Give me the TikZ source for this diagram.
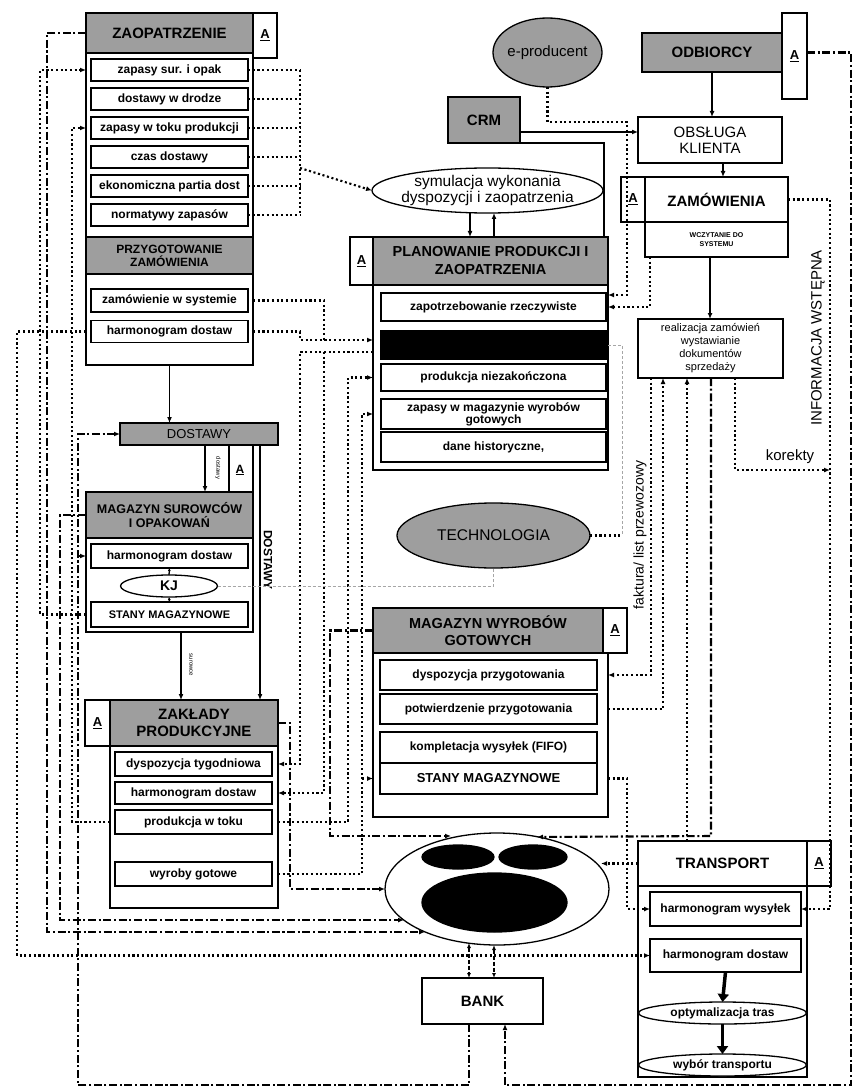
\documentclass[tikz,border=0pt]{standalone}
\usepackage{fontspec}
\setmainfont{Liberation Sans}
\usetikzlibrary{arrows.meta,shapes.geometric,calc}
\definecolor{hdrgray}{gray}{0.62}
\newcommand{\fsb}[2]{\fontsize{#1}{#2}\selectfont\bfseries}
\newcommand{\fsr}[2]{\fontsize{#1}{#2}\selectfont}
\tikzset{
 bx/.style={draw, line width=1.3pt, fill=white, align=center, inner sep=1pt, outer sep=0pt, font=\fsb{12}{13}},
 hd/.style={bx, fill=hdrgray, font=\fsb{15}{17}},
 abox/.style={bx, font=\fsb{13}{13}},
 el/.style={ellipse, draw, line width=1.3pt, fill=white, inner sep=0pt, outer sep=0pt},
 lbl/.style={inner sep=0pt, outer sep=0pt, align=center},
 ln/.style={line width=1.3pt},
 ar/.style={-{Latex[length=6pt,width=5pt]}},
 dt/.style={line width=2.1pt, dash pattern=on 2.1pt off 2.6pt},
 dd/.style={line width=2.1pt, dash pattern=on 8pt off 2.6pt on 2.1pt off 2.6pt},
 gd/.style={line width=1pt, dash pattern=on 3pt off 2pt, draw=black!35},
}
\begin{document}
\begin{tikzpicture}[x=1pt,y=-1pt]
\useasboundingbox (0,0) rectangle (854,1091);
\fill[white] (0,0) rectangle (854,1091);

% ---------------- ZAOPATRZENIE
\node[bx, minimum width=167, minimum height=352] (zaopO) at (169.5,189) {};
\node[hd, minimum width=167, minimum height=40] (zaopH) at (169.5,33) {ZAOPATRZENIE};
\node[abox, minimum width=24, minimum height=45] (zaopA) at (265,35.5) {\underline{A}};
\node[bx, minimum width=157, minimum height=22] (z1) at (169.5,70) {zapasy sur. i opak};
\node[bx, minimum width=157, minimum height=22] (z2) at (169.5,99) {dostawy w drodze};
\node[bx, minimum width=157, minimum height=22] (z3) at (169.5,128) {zapasy w toku produkcji};
\node[bx, minimum width=157, minimum height=22] (z4) at (169.5,157) {czas dostawy};
\node[bx, minimum width=157, minimum height=22] (z5) at (169.5,186) {ekonomiczna partia dost};
\node[bx, minimum width=157, minimum height=22] (z6) at (169.5,215) {normatywy zapasów};
\node[hd, minimum width=167, minimum height=37, font=\fsb{12}{13}] (przH) at (169.5,255.5) {PRZYGOTOWANIE\\ZAMÓWIENIA};
\node[bx, minimum width=157, minimum height=23] (z7) at (169.5,300.5) {zamówienie w systemie};
\node[bx, minimum width=157, minimum height=22] (z8) at (169.5,331.5) {harmonogram dostaw};

% ---------------- DOSTAWY
\node[hd, minimum width=158, minimum height=22, font=\fsr{13}{13}] (dost) at (199,434) {DOSTAWY};

% ---------------- MAGAZYN SUROWCOW
\node[bx, minimum width=167, minimum height=140] (magO) at (169.5,562) {};
\node[hd, minimum width=167, minimum height=46, font=\fsb{12.5}{14}] (magH) at (169.5,515) {MAGAZYN SUROWCÓW\\I OPAKOWAŃ};
\node[bx, minimum width=157, minimum height=24] (m1) at (169.5,556) {harmonogram dostaw};
\node[el, minimum width=97, minimum height=22] (kj) at (169,586) {};
\node[lbl, font=\fsb{14}{14}] (kjt) at (kj) {KJ};
\node[bx, minimum width=157, minimum height=25, font=\fsb{11}{12}] (m2) at (169.5,614.5) {STANY MAGAZYNOWE};

% ---------------- ZAKLADY
\node[bx, minimum width=168, minimum height=162] (zakO) at (194,827) {};
\node[hd, minimum width=168, minimum height=46] (zakH) at (194,723) {ZAKŁADY\\PRODUKCYJNE};
\node[abox, minimum width=25, minimum height=46] (zakA) at (97.5,723) {\underline{A}};
\node[bx, minimum width=157, minimum height=24] (k1) at (193.5,764) {dyspozycja tygodniowa};
\node[bx, minimum width=157, minimum height=22] (k2) at (193.5,793) {harmonogram dostaw};
\node[bx, minimum width=157, minimum height=24] (k3) at (193.5,822) {produkcja w toku};
\node[bx, minimum width=157, minimum height=24] (k4) at (193.5,874) {wyroby gotowe};

% ---------------- top right
\node[el, fill=hdrgray, minimum width=109, minimum height=69] (eprod) at (547.5,52.5) {};
\node[lbl, font=\fsr{15}{15}] (eprodt) at (eprod) {e-producent};
\node[hd, minimum width=140, minimum height=39] (odb) at (712,52.5) {ODBIORCY};
\node[abox, minimum width=25, minimum height=86] (odbA) at (794.5,56) {\underline{A}};
\node[hd, minimum width=72, minimum height=46] (crm) at (484,120) {CRM};
\node[bx, minimum width=144, minimum height=46, font=\fsr{15}{16}] (obs) at (710,140) {OBSŁUGA\\KLIENTA};
\node[abox, minimum width=24, minimum height=45] (zamA) at (633,199.5) {\underline{A}};
\node[bx, minimum width=143, minimum height=45, font=\fsb{15}{15}] (zam) at (716.5,199.5) {ZAMÓWIENIA};
\node[bx, minimum width=143, minimum height=35, font=\fsb{7}{9}] (wczyt) at (716.5,239.5) {WCZYTANIE DO\\SYSTEMU};

% ---------------- symulacja
\node[el, minimum width=231, minimum height=45] (sym) at (487.5,190.5) {};
\node[lbl, font=\fsr{15.5}{16}] (symt) at (sym) {symulacja wykonania\\dyspozycji i zaopatrzenia};

% ---------------- PLANOWANIE
\node[bx, minimum width=235, minimum height=185] (planO) at (490.5,377.5) {};
\node[hd, minimum width=235, minimum height=48, font=\fsb{14.5}{18}] (planH) at (490.5,261) {PLANOWANIE PRODUKCJI I\\ZAOPATRZENIA};
\node[abox, minimum width=23, minimum height=48] (planA) at (361.5,261) {\underline{A}};
\node[bx, minimum width=225, minimum height=28] (p1) at (493.5,307) {zapotrzebowanie rzeczywiste};
\node[bx, fill=black, minimum width=225, minimum height=28] (p2) at (493.5,345) {};
\node[bx, minimum width=225, minimum height=27] (p3) at (493.5,377.5) {produkcja niezakończona};
\node[bx, minimum width=225, minimum height=30, font=\fsb{12}{12}] (p4) at (493.5,414) {zapasy w magazynie wyrobów\\gotowych};
\node[bx, minimum width=225, minimum height=30] (p5) at (493.5,447) {dane historyczne,};

% ---------------- TECHNOLOGIA
\node[el, fill=hdrgray, minimum width=193, minimum height=65] (tech) at (493.5,535.5) {};
\node[lbl, font=\fsr{15.5}{15.5}] (techt) at (tech) {TECHNOLOGIA};

% ---------------- realizacja
\node[bx, minimum width=145, minimum height=59, font=\fsr{11}{13}] (real) at (710.5,348.5) {realizacja zamówień\\wystawianie\\dokumentów\\sprzedaży};

% ---------------- MAGAZYN WYROBOW GOTOWYCH
\node[bx, minimum width=235, minimum height=164] (mwgO) at (490.5,735) {};
\node[hd, minimum width=230, minimum height=45, font=\fsb{14.5}{17}] (mwgH) at (488,630.5) {MAGAZYN WYROBÓW\\GOTOWYCH};
\node[abox, minimum width=24, minimum height=45] (mwgA) at (615,630.5) {\underline{A}};
\node[bx, minimum width=217, minimum height=30] (w1) at (488.5,675) {dyspozycja przygotowania};
\node[bx, minimum width=217, minimum height=30] (w2) at (488.5,709) {potwierdzenie przygotowania};
\node[bx, minimum width=217, minimum height=31] (w3) at (488.5,747.5) {kompletacja wysyłek (FIFO)};
\node[bx, line width=2.2pt, minimum width=217, minimum height=31, font=\fsb{13}{13}] (w4) at (488.5,778.5) {STANY MAGAZYNOWE};

% ---------------- central ellipse
\node[el, minimum width=224, minimum height=112] (db) at (497,889) {};
\node[el, fill=black, minimum width=72, minimum height=24] (e1) at (458,857) {};
\node[el, fill=black, minimum width=68, minimum height=24] (e2) at (533,857) {};
\node[el, fill=black, minimum width=145, minimum height=59] (e3) at (494.5,902.5) {};

% ---------------- BANK
\node[bx, minimum width=121, minimum height=46, font=\fsb{15}{15}] (bank) at (482.5,1001) {BANK};

% ---------------- TRANSPORT
\node[bx, minimum width=169, minimum height=191] (trO) at (722.5,981.5) {};
\node[bx, minimum width=169, minimum height=45, font=\fsb{15}{15}] (trH) at (722.5,863.5) {TRANSPORT};
\node[abox, minimum width=24, minimum height=45] (trA) at (819,863.5) {\underline{A}};
\node[bx, minimum width=151, minimum height=34] (t1) at (725.5,909) {harmonogram wysyłek};
\node[bx, minimum width=151, minimum height=33] (t2) at (725.5,955.5) {harmonogram dostaw};
\node[el, minimum width=168, minimum height=22] (t3) at (722.5,1013) {};
\node[lbl, font=\fsb{12}{12}] (t3t) at (t3) {optymalizacja tras};
\node[el, minimum width=168, minimum height=22] (t4) at (722.5,1065) {};
\node[lbl, font=\fsb{12}{12}] (t4t) at (t4) {wybór transportu};

% ---------------- free labels
\node[lbl, rotate=90, font=\fsr{15}{15}] (linfo) at (818,338) {INFORMACJA WSTĘPNA};
\node[lbl, rotate=90, font=\fsr{14}{14}] (lfakt) at (640,535) {faktura/ list przewozowy};
\node[lbl, font=\fsr{15}{15}] (lkor) at (790,457) {korekty};
\node[lbl, rotate=-90, font=\fsb{12}{12}] (ldost) at (268,560) {DOSTAWY};
\node[lbl, rotate=-90, font=\fsr{6}{6}] (ldost2) at (218,468) {dostawy};
\node[lbl, font=\fsb{12}{12}] (lAd) at (240,470) {\underline{A}};
\node[lbl, rotate=-90, font=\fsr{6}{6}] (lsur) at (191,665) {surowce};

% ---------------- lane coordinates
\coordinate (xd1) at (205,0); \coordinate (xd2) at (229,0);
\coordinate (xd3) at (253,0); \coordinate (xd4) at (260,0);
\coordinate (xd5) at (181,0); \coordinate (x470) at (470,0);
\coordinate (x494) at (494,0); \coordinate (x604) at (604,0);
\coordinate (x710) at (710,0); \coordinate (x723) at (723,0);
\coordinate (yc) at (0,132); \coordinate (y122) at (0,122);
\coordinate (y295) at (0,295); \coordinate (y307) at (0,307);
\coordinate (y470) at (0,470); \coordinate (y340) at (0,340);
\coordinate (y352) at (0,352); \coordinate (y836) at (0,836);
\coordinate (yB) at (0,1085);
\coordinate (lA) at (17,0); \coordinate (lB) at (40,0); \coordinate (lC) at (47,0);
\coordinate (lD) at (60,0); \coordinate (lE) at (72,0); \coordinate (lF) at (78,0);
\coordinate (sp) at (300,0); \coordinate (lM) at (290,0); \coordinate (lH) at (324,0);
\coordinate (lL) at (330,0); \coordinate (lJ) at (348,0); \coordinate (lK) at (362,0);
\coordinate (x622) at (622,0);
\coordinate (r1) at (627,0); \coordinate (r2) at (650,0); \coordinate (r3) at (651,0);
\coordinate (r4) at (663,0); \coordinate (r5) at (687,0); \coordinate (r6) at (711,0);
\coordinate (r7) at (735,0); \coordinate (r8) at (830,0); \coordinate (rR) at (851,0);
\coordinate (xb1) at (469,0); \coordinate (xb2) at (505,0); \coordinate (xb3) at (494,0);
\coordinate (dbE) at ($(db.center)+(104,-21)$);
\coordinate (dbNW) at ($(db.center)+(-46,-53)$);
\coordinate (dbN) at ($(db.center)+(40,-52)$);
\coordinate (dbW1) at ($(db.center)+(-93,31)$);
\coordinate (dbW2) at ($(db.center)+(-72,43)$);
\coordinate (dbS1) at ($(db.center)+(-28,54)$);
\coordinate (dbS2) at ($(db.center)+(-3,56)$);

% ---------------- solid connectors
\draw[ln,ar] (zaopO.south) -- (zaopO.south |- dost.north);
\draw[ln,ar] (xd1 |- dost.south) -- (xd1 |- magH.north);
\draw[ln] (xd2 |- dost.south) -- (xd2 |- magH.north);
\draw[ln] (xd3 |- dost.south) -- (xd3 |- magH.north);
\draw[ln,ar] (xd4 |- dost.south) -- (xd4 |- zakH.north);
\draw[ln,ar] (xd5 |- magO.south) -- (xd5 |- zakH.north);
\draw[ln,-{Latex[length=3pt,width=3pt]}] (kj.north) -- (m1.south);
\draw[ln,-{Latex[length=3pt,width=3pt]}] (m2.north) -- (kj.south);
\draw[ln,ar] (odb.south) -- (odb.south |- obs.north);
\draw[ln,ar] (crm.east |- yc) -- (obs.west |- yc);
\draw[ln] (crm.south east) -- (x604 |- crm.south east) -- (x604 |- planH.north);
\draw[ln,ar] (x723 |- obs.south) -- (x723 |- zam.north);
\draw[ln,ar] (x470 |- sym.south) -- (x470 |- planH.north);
\draw[ln,ar] (x494 |- planH.north) -- (x494 |- sym.south);
\draw[ln,ar] (x710 |- wczyt.south) -- (x710 |- real.north);
\draw[line width=3.5pt,-{Triangle[length=8pt,width=11pt]}] (t2.south) -- (t3.north);
\draw[line width=3.5pt,-{Triangle[length=8pt,width=11pt]}] (t3.south) -- (t4.north);

% ---------------- dotted connectors
\foreach \n in {z1,z2,z3,z4,z5,z6} \draw[dt] (\n.east) -- (sp |- \n.east);
\draw[dt] (sp |- z1.east) -- (sp |- z6.east);
\draw[dt,ar] (sp |- z4.south) -- (sym.west);
\draw[dt,ar] (eprod.south) -- (eprod.south |- y122) -- (r1 |- y122) -- (r1 |- y295) -- (planO.east |- y295);
\draw[dt,ar] (r2 |- wczyt.south) -- (r2 |- y307) -- (planO.east |- y307);
\draw[dt,ar] (zam.east) -- (r8 |- zam.east) -- (r8 |- t1.east) -- (t1.east);
\draw[dt,ar] (r7 |- real.south) -- (r7 |- y470) -- (r8 |- y470);
\draw[dt,ar] (r3 |- real.south) -- (r3 |- w1.east) -- (mwgO.east |- w1.east);
\draw[dt,ar] (mwgO.east |- w2.east) -- (r4 |- w2.east) -- (r4 |- real.south);
\draw[dt,ar] (r5 |- trH.north) -- (r5 |- real.south);
\draw[dt,ar] (mwgO.east |- w4.east) -- (r1 |- w4.east) -- (r1 |- t1.west) -- (t1.west);
\draw[dt,ar] (trH.west) -- (trH.west -| dbE);
\draw[dt,ar] (zaopO.west |- z8.west) -- (lA |- z8.west) -- (lA |- t2.west) -- (t2.west);
\draw[dt,ar] (magO.west |- m2.west) -- (lB |- m2.west) -- (lB |- z1.west) -- (zaopO.west |- z1.west);
\draw[dt,ar] (zakO.west |- k3.west) -- (lE |- k3.west) -- (lE |- z3.west) -- (zaopO.west |- z3.west);
\draw[dt] (zaopO.east |- z7.east) -- (lH |- z7.east) -- (lH |- y340);
\draw[dt,ar] (zaopO.east |- z8.east) -- (sp |- z8.east) -- (sp |- y340) -- (planO.west |- y340);
\draw[dt,ar] (planO.west |- y352) -- (sp |- y352) -- (sp |- k1.east) -- (zakO.east |- k1.east);
\draw[dt,ar] (lH |- y352) -- (lH |- k2.east) -- (zakO.east |- k2.east);
\draw[dt,ar] (zakO.east |- k3.east) -- (lJ |- k3.east) -- (lJ |- p3.west) -- (planO.west |- p3.west);
\draw[dt,ar] (zakO.east |- k4.east) -- (lK |- k4.east) -- (lK |- p4.west) -- (planO.west |- p4.west);
\draw[dt,ar] (lK |- w4.west) -- (mwgO.west |- w4.west);
\draw[dt] (tech.east) -- (x622 |- tech.east);
\draw[gd] (planO.east |- p2.east) -- (x622 |- p2.east) -- (x622 |- tech.east);
\draw[gd] (kj.east) -- (tech.south |- kj.east) -- (tech.south);

% ---------------- dash-dot connectors
\draw[dd,ar] (mwgH.west) -- (lL |- mwgH.west) -- (lL |- y836) -- (dbNW);
\draw[dd,ar] (r6 |- real.south) -- (r6 |- y836) -- (dbN);
\draw[dd,ar] (zakH.east) -- (lM |- zakH.east) -- (lM |- db.west) -- (db.west);
\draw[dd,ar] (zaopH.west) -- (lC |- zaopH.west) -- (lC |- dbW2) -- (dbW2);
\draw[dd,ar] (magH.west) -- (lD |- magH.west) -- (lD |- dbW1) -- (dbW1);
\draw[dd,ar] (xb1 |- bank.south) -- (xb1 |- yB) -- (lF |- yB) -- (lF |- dost.west) -- (dost.west);
\draw[dd,ar] (lF |- m1.west) -- (magO.west |- m1.west);
\draw[dd,ar] (odbA.east |- odb.east) -- (rR |- odb.east) -- (rR |- yB) -- (xb2 |- yB) -- (xb2 |- bank.south);
\draw[line width=1.6pt, dash pattern=on 4pt off 2pt, {Latex[length=5pt,width=4pt]}-{Latex[length=5pt,width=4pt]}] (dbS1) -- (xb1 |- bank.north);
\draw[line width=1.6pt, dash pattern=on 4pt off 2pt, {Latex[length=5pt,width=4pt]}-{Latex[length=5pt,width=4pt]}] (dbS2) -- (xb3 |- bank.north);
\end{tikzpicture}
\end{document}
